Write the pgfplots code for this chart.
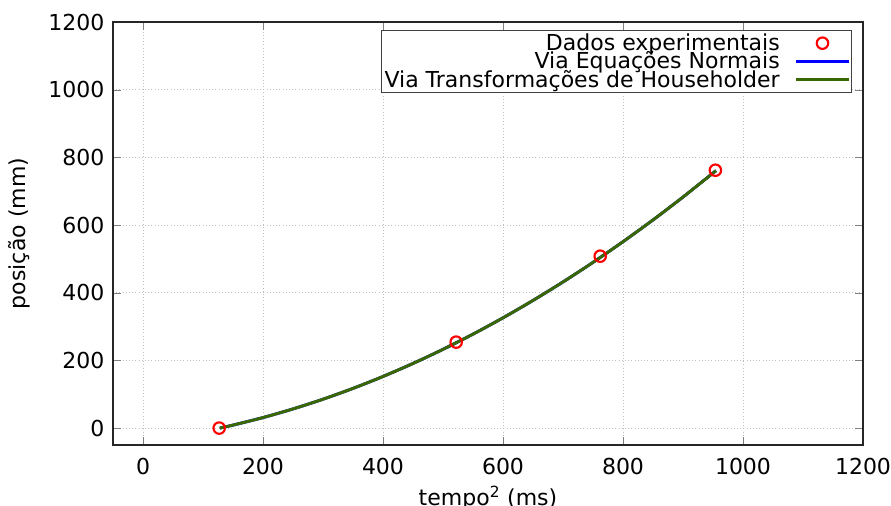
\documentclass[border=0pt]{standalone}
\usepackage{pgfplots}
\pgfplotsset{compat=1.18}
\usepackage{fontspec}
\setmainfont{DejaVu Sans}
\definecolor{hgreen}{RGB}{58,104,0}
\begin{document}
\begin{tikzpicture}
\begin{axis}[
  name=ax,
  scale only axis,
  width=562.5pt, height=317.25pt,
  xmin=-50, xmax=1200, ymin=-50, ymax=1200,
  xtick={0,200,...,1200}, ytick={0,200,...,1200},
  tick align=inside, tick pos=both,
  major tick length=6pt,
  /pgf/number format/assume math mode=true,
  /pgf/number format/1000 sep={},
  font=\fontsize{16.5}{19}\selectfont,
  tick label style={font=\fontsize{16.5}{19}\selectfont},
  xticklabel style={yshift=-6pt},
  yticklabel style={xshift=-3pt},
  grid=major,
  major grid style={dotted, gray!50, line width=0.7pt},
  axis line style={line width=0.8pt, black!85},
  xlabel={tempo\textsuperscript{2} (ms)},
  ylabel={posição (mm)},
  xlabel style={yshift=-2pt},
  ylabel style={yshift=7pt},
  legend plot pos=right,
  legend cell align=right,
  legend style={at={(0.985,0.981)}, anchor=north east, draw=black!75, line width=0.7pt,
    font=\fontsize{16.5}{16}\selectfont, inner sep=0.5pt, row sep=-4.5pt,
    /tikz/column sep=9pt},
  legend image code/.code={\draw[#1] (0pt,0pt) -- (40pt,0pt);},
]
\addplot[only marks, mark=o, red, mark size=4.3pt, line width=1.6pt,
  legend image code/.code={\draw[mark repeat=2,mark phase=2] plot coordinates {(0pt,0pt) (20pt,0pt) (40pt,0pt)};}]
  coordinates {(127,0) (522,254) (762,508) (954,762)};
\addlegendentry{Dados experimentais}
\addplot[blue, line width=2.2pt, smooth] coordinates {
 (128,0) (150,8.8) (200,31.1) (250,56.6) (300,85.3) (350,117.3) (400,152.5) (450,191.0)
 (500,232.7) (550,277.6) (600,325.8) (650,377.2) (700,431.8) (750,489.7) (800,550.8)
 (850,615.1) (900,682.7) (955,760.8)};
\addlegendentry{Via Equações Normais}
\addplot[hgreen, line width=2.2pt, smooth] coordinates {
 (128,0) (150,8.8) (200,31.1) (250,56.6) (300,85.3) (350,117.3) (400,152.5) (450,191.0)
 (500,232.7) (550,277.6) (600,325.8) (650,377.2) (700,431.8) (750,489.7) (800,550.8)
 (850,615.1) (900,682.7) (955,760.8)};
\addlegendentry{Via Transformações de Householder}
\end{axis}
\pgfresetboundingbox
\path ([xshift=-84.75pt, yshift=-45.75pt]ax.south west) rectangle ([xshift=21pt, yshift=16.5pt]ax.north east);
\end{tikzpicture}
\end{document}
